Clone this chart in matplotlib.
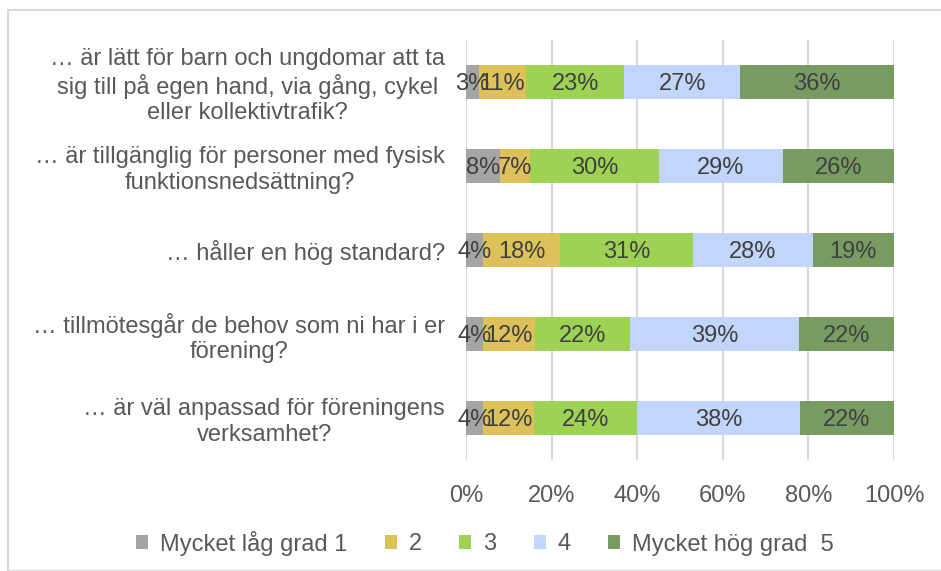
import numpy as np
import matplotlib.pyplot as plt
from matplotlib.patches import Rectangle

plt.rcParams['font.family'] = ['Liberation Sans', 'DejaVu Sans']

questions = [
    "… är lätt för barn och ungdomar att ta\nsig till på egen hand, via gång, cykel\neller kollektivtrafik?",
    "… är tillgänglig för personer med fysisk\nfunktionsnedsättning?",
    "… håller en hög standard?",
    "… tillmötesgår de behov som ni har i er\nförening?",
    "… är väl anpassad för föreningens\nverksamhet?",
]
series_names = ["Mycket låg grad 1", "2", "3", "4", "Mycket hög grad  5"]
grade1 = [3, 8, 4, 4, 4]
grade2 = [11, 7, 18, 12, 12]
grade3 = [23, 30, 31, 22, 24]
grade4 = [27, 29, 28, 39, 38]
grade5 = [36, 26, 19, 22, 22]
colors = ["#A5A5A5", "#DDC15A", "#9DD254", "#C2D5FA", "#789B61"]

W, H = 941, 571
fig = plt.figure(figsize=(W / 100, H / 100), dpi=100)
fig.patches.append(Rectangle((8 / W, 0), 1.0, 1 - 10 / H, transform=fig.transFigure,
                             fill=False, edgecolor="#D9D9D9", lw=1.5))

ax = fig.add_axes([466 / W, 1 - 460 / H, (894 - 466) / W, (460 - 40) / H])

data = np.array([grade1, grade2, grade3, grade4, grade5], dtype=float)
totals = data.sum(axis=0)
y = np.arange(len(questions))
left = np.zeros(len(questions))
for vals, name, c in zip(data, series_names, colors):
    widths = vals / totals * 100
    ax.barh(y, widths, left=left, height=0.4, color=c, label=name, zorder=2)
    for yi, l, w, v in zip(y, left, widths, vals):
        ax.text(l + w / 2, yi + 0.02, f"{v:.0f}%", ha="center", va="center",
                fontsize=17, color="#404040", zorder=3)
    left += widths

ax.set_xlim(0, 100)
ax.set_ylim(len(questions) - 0.5, -0.5)
ax.set_xticks(np.arange(0, 101, 20))
ax.set_xticklabels([f"{t}%" for t in range(0, 101, 20)], fontsize=17, color="#595959")
ax.set_yticks(y)
ax.set_yticklabels(questions, fontsize=17, color="#595959", multialignment="center",
                   linespacing=1.2)
ax.tick_params(axis="both", length=0)
ax.tick_params(axis="y", pad=15)
ax.tick_params(axis="x", pad=18)
ax.grid(axis="x", color="#D9D9D9", lw=1.5, zorder=0)
for s in ax.spines.values():
    s.set_visible(False)

fig.legend(loc="center", bbox_to_anchor=(485 / W, 1 - 543 / H), ncol=5, frameon=False,
           fontsize=17, labelcolor="#595959", handlelength=0.5, handleheight=0.5,
           handletextpad=0.5, columnspacing=1.6)

fig.savefig("out.png", dpi=100)
